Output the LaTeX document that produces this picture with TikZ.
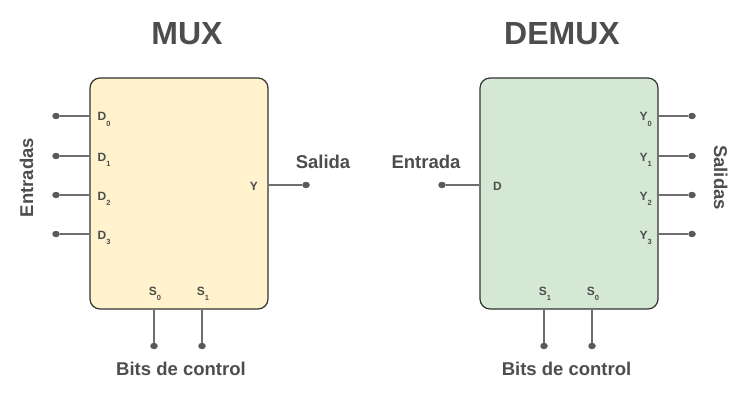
\documentclass[tikz,border=0pt]{standalone}
\usepackage{fontspec}
\setmainfont{Liberation Sans}
\usetikzlibrary{positioning, calc, shapes.geometric}
\definecolor{txtgray}{HTML}{4D4D4D}
\definecolor{linegray}{HTML}{6E6E6E}
\definecolor{muxfill}{HTML}{FFF2CC}
\definecolor{demuxfill}{HTML}{D5E8D4}
\newcommand{\pinsub}[1]{\raisebox{-5.7pt}{\fontsize{7.5}{8}\selectfont #1}}
\tikzset{
    block/.style={draw=black!80, line width=1.2pt, rounded corners=10pt,
        minimum width=178pt, minimum height=231pt, inner sep=0pt},
    pin/.style={ellipse, fill=black!65, inner sep=0pt, minimum width=7.5pt, minimum height=6.5pt},
    wire/.style={draw=linegray, line width=1.4pt},
    lbl/.style={font=\bfseries\fontsize{12}{14}\selectfont, text=txtgray, inner sep=0pt},
    caption/.style={font=\bfseries\fontsize{18.5}{20}\selectfont, text=txtgray, inner sep=0pt},
    heading/.style={font=\bfseries\fontsize{32}{36}\selectfont, text=txtgray, inner sep=0pt}
}
\begin{document}
\begin{tikzpicture}[x=1pt, y=-1pt]
    \useasboundingbox (0,0) rectangle (751,401);

    \node[heading, anchor=base] (muxT) at (187,45) {MUX};
    \node[heading, anchor=base] (demuxT) at (562,45) {DEMUX};

    \node[block, fill=muxfill] (mux) at (179,193.5) {};
    \node[block, fill=demuxfill] (demux) at (569,193.5) {};

    % MUX
    \foreach \i/\y in {0/116, 1/156, 2/195, 3/234} {
        \node[pin] (muxD\i) at (56,\y) {};
        \draw[wire] (muxD\i) -- (mux.west |- muxD\i);
        \node[lbl, anchor=base west] (muxDl\i) at (97.5,\y+5) {D\pinsub{\i}};
    }
    \node[pin] (muxY) at (306,185) {};
    \draw[wire] (mux.east |- muxY) -- (muxY);
    \node[lbl, anchor=base east] (muxYl) at (258,190) {Y};
    \foreach \i/\x in {0/154, 1/202} {
        \node[pin] (muxS\i) at (\x,346) {};
        \draw[wire] (mux.south -| muxS\i) -- (muxS\i);
        \node[lbl, anchor=base] (muxSl\i) at (\x+1,295) {S\pinsub{\i}};
    }
    \node[caption, anchor=base, rotate=90] (muxIn) at (33,177.5) {Entradas};
    \node[caption, anchor=base] (muxOut) at (323,168) {Salida};
    \node[caption, anchor=base] (muxCtl) at (181,375) {Bits de control};

    % DEMUX
    \node[pin] (demuxD) at (442,185) {};
    \draw[wire] (demuxD) -- (demux.west |- demuxD);
    \node[lbl, anchor=base west] (demuxDl) at (493,190) {D};
    \foreach \i/\y in {0/116, 1/156, 2/195, 3/234} {
        \node[pin] (demuxY\i) at (692,\y) {};
        \draw[wire] (demux.east |- demuxY\i) -- (demuxY\i);
        \node[lbl, anchor=base east] (demuxYl\i) at (652,\y+5) {Y\pinsub{\i}};
    }
    \foreach \i/\x in {1/544, 0/592} {
        \node[pin] (demuxS\i) at (\x,346) {};
        \draw[wire] (demux.south -| demuxS\i) -- (demuxS\i);
        \node[lbl, anchor=base] (demuxSl\i) at (\x+1,295) {S\pinsub{\i}};
    }
    \node[caption, anchor=base] (demuxIn) at (426,168) {Entrada};
    \node[caption, anchor=base, rotate=-90] (demuxOut) at (714,177.5) {Salidas};
    \node[caption, anchor=base] (demuxCtl) at (566.5,375) {Bits de control};
\end{tikzpicture}
\end{document}
